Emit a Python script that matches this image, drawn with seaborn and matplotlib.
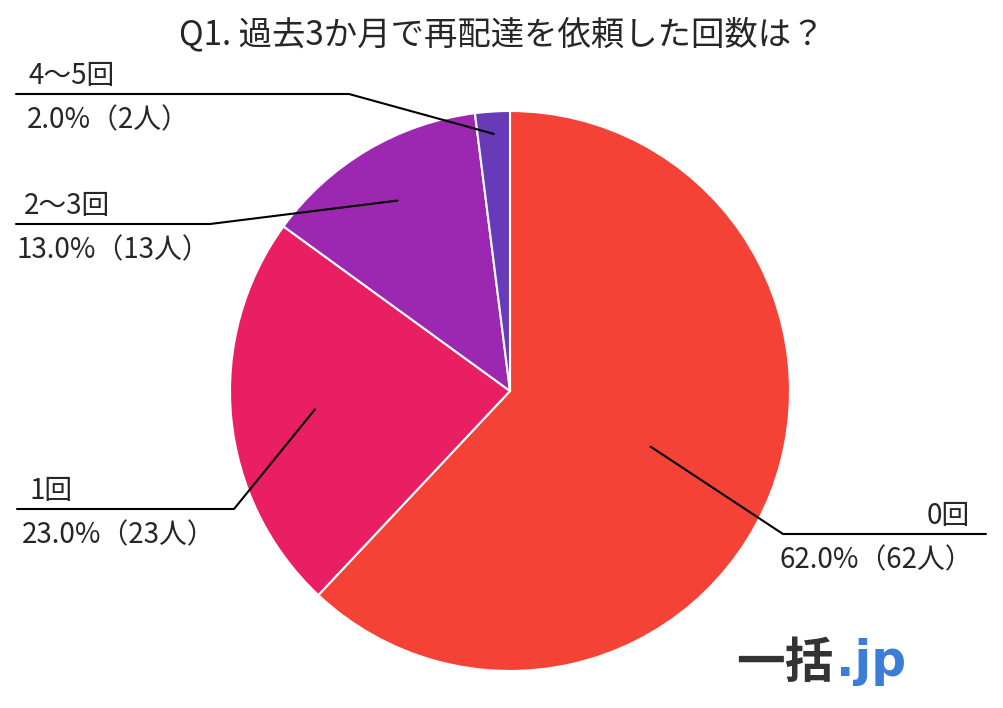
import numpy as np
import seaborn as sns
import matplotlib.pyplot as plt
from matplotlib.lines import Line2D

# data
categories = ["0回", "1回", "2～3回", "4～5回"]
counts = [62, 23, 13, 2]
percents = [62.0, 23.0, 13.0, 2.0]
colours = ["#F44336", "#E91E63", "#9C27B0", "#673AB7"]
title = "Q1. 過去3か月で再配達を依頼した回数は？"

sns.set_style("white")
plt.rcParams["font.family"] = ["Noto Sans CJK JP", "DejaVu Sans"]

W, H = 1004, 708
fig = plt.figure(figsize=(W / 100, H / 100), dpi=100)


def fx(x):
    return x / W


def fy(y):
    return 1 - y / H


# pie axes: centre (510, 391), radius 280 px
cx, cy, r = 510, 391, 280
ax = fig.add_axes([fx(cx - r), fy(cy + r), 2 * r / W, 2 * r / H])
wedges, _ = ax.pie(counts, colors=sns.color_palette(colours), startangle=90,
                   counterclock=False, radius=1,
                   wedgeprops=dict(edgecolor="white", linewidth=1.5))
ax.set_xlim(-1, 1)
ax.set_ylim(-1, 1)
ax.set_aspect("equal")
ax.axis("off")

fig.text(0.5, fy(35), title, ha="center", va="center", fontsize=24)

# label layout: (anchor radius frac, elbow x, line y, line end x, side, cat x, value x)
layout = [
    (0.54, 783, 534, 986, "right", 970, 973),
    (0.70, 234, 509, 17, "left", 30, 22),
    (0.79, 210, 224, 16, "left", 24, 17),
    (0.92, 349, 94, 16, "left", 29, 27),
]

for w, cat, pct, n, (frac, ex, ly, lx, side, tx, vx) in zip(
        wedges, categories, percents, counts, layout):
    mid = np.deg2rad((w.theta1 + w.theta2) / 2)
    px = cx + frac * r * np.cos(mid)
    py = cy - frac * r * np.sin(mid)
    fig.add_artist(Line2D([fx(px), fx(ex), fx(lx)], [fy(py), fy(ly), fy(ly)],
                          transform=fig.transFigure, color="black", lw=1.5))
    val = f"{pct:.1f}%（{n}人）"
    fig.text(fx(tx), fy(ly - 18), cat, ha=side, va="center", fontsize=20)
    fig.text(fx(vx), fy(ly + 26), val, ha=side, va="center", fontsize=20)

# logo
fig.text(fx(736), fy(664), "一括", ha="left", va="center", fontsize=35,
         fontweight="bold", color="#333333")
fig.text(fx(836), fy(662), ".jp", ha="left", va="center", fontsize=35,
         fontweight="bold", color="#3B7DD8", family=["DejaVu Sans"])

fig.savefig("out.png", dpi=100)
